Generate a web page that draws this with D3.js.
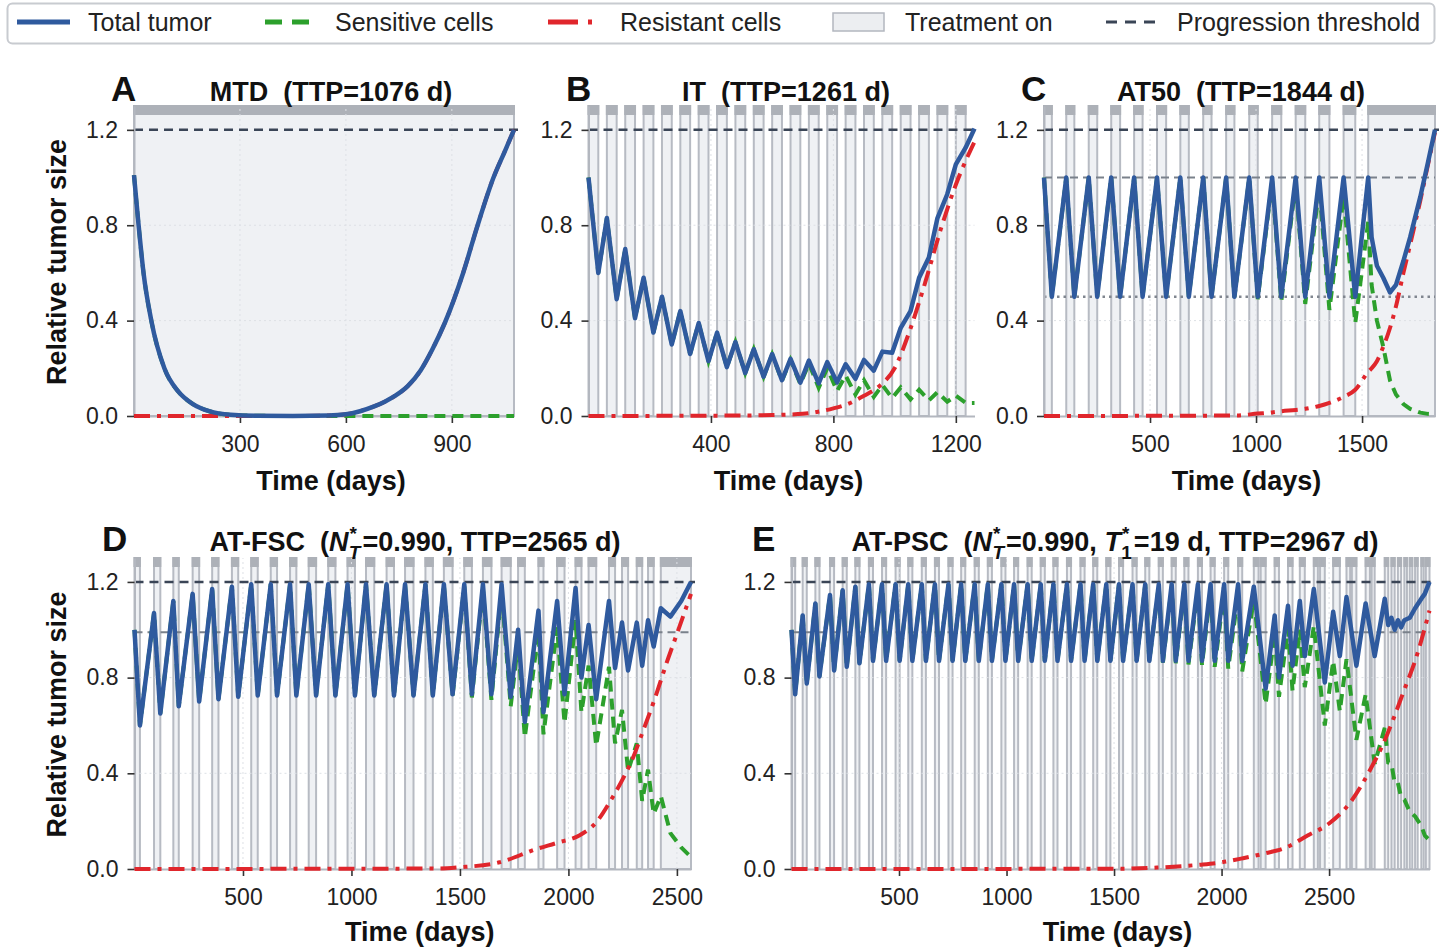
<!DOCTYPE html>
<html><head><meta charset="utf-8">
<script src="https://cdn.jsdelivr.net/npm/d3@7"></script>
<style>
body{margin:0;background:#fff;}
svg{display:block;}
</style></head><body>
<svg id="chart" width="1443" height="949"></svg>
<script>
// ---------------- DATA ----------------
// Panel A : MTD
const A_time  = [0,13,27,49,86,127,167,213,274,350,450,550,600,640,680,710,740,775,811,845,880,932,973,1018,1050,1076];
const A_total = [1.01,0.8,0.6,0.4,0.2,0.1,0.05,0.02,0.005,0.001,0.0005,0.002,0.007,0.02,0.04,0.06,0.085,0.125,0.19,0.28,0.39,0.6,0.8,1.0,1.11,1.2];
const A_sensT = [0,13,27,49,86,127,167,213,274,350,450,1076];
const A_sens  = [1.01,0.8,0.6,0.4,0.2,0.1,0.05,0.02,0.005,0.001,0,0];
const A_resT  = [0,450,550,600,640,680,710,740,775,811,845,880,932,973,1018,1050,1076];
const A_res   = [0,0.0003,0.002,0.007,0.02,0.04,0.06,0.085,0.125,0.19,0.28,0.39,0.6,0.8,1.0,1.11,1.2];
const A_txStart = [0];
const A_txEnd   = [1076];

// Panel B : IT
const B_time  = [0,32,60,92,120,152,180,212,240,272,300,332,360,392,420,452,480,512,540,572,600,632,660,692,720,752,780,812,840,872,900,932,960,992,1020,1052,1080,1112,1140,1172,1200,1232,1261];
const B_total = [1.0,0.60,0.83,0.49,0.70,0.41,0.58,0.35,0.50,0.30,0.44,0.26,0.39,0.23,0.35,0.205,0.31,0.18,0.28,0.165,0.26,0.15,0.24,0.14,0.232,0.137,0.226,0.141,0.217,0.156,0.235,0.19,0.27,0.265,0.37,0.44,0.58,0.665,0.83,0.93,1.055,1.125,1.205];
const B_sens  = [1.0,0.60,0.83,0.49,0.70,0.41,0.58,0.35,0.50,0.30,0.44,0.26,0.39,0.23,0.35,0.205,0.31,0.18,0.28,0.165,0.258,0.148,0.236,0.134,0.22,0.118,0.20,0.105,0.17,0.09,0.15,0.08,0.13,0.075,0.12,0.07,0.11,0.065,0.10,0.06,0.085,0.055,0.055];
const B_resT  = [0,500,600,700,750,800,850,900,950,1000,1050,1100,1150,1200,1261];
const B_res   = [0,0.002,0.004,0.009,0.018,0.032,0.052,0.085,0.125,0.2,0.36,0.56,0.78,0.97,1.15];
const B_txStart = [0,60,120,180,240,300,360,420,480,540,600,660,720,780,840,900,960,1020,1080,1140,1200];
const B_txEnd   = [32,92,152,212,272,332,392,452,512,572,632,692,752,812,872,932,992,1052,1112,1172,1232];

// Panel C : AT50
const C_time  = [0,37,105,143,211,251,317,359,425,465,533,576,643,683,751,790,859,898,968,1008,1076,1119,1187,1232,1298,1346,1413,1468,1529,1545,1570,1600,1632,1660,1695,1727,1775,1810,1844];
const C_total = [1.0,0.5,1.0,0.5,1.0,0.5,1.0,0.5,1.0,0.5,1.0,0.5,1.0,0.5,1.0,0.5,1.0,0.5,1.0,0.5,1.0,0.5,1.0,0.5,1.0,0.5,1.0,0.5,1.0,0.75,0.63,0.58,0.518,0.55,0.65,0.75,0.92,1.06,1.2];
const C_sens  = [1.0,0.5,1.0,0.5,1.0,0.5,1.0,0.5,1.0,0.5,1.0,0.5,1.0,0.5,1.0,0.5,1.0,0.498,0.998,0.49,0.985,0.48,0.975,0.47,0.958,0.445,0.92,0.39,0.815,0.55,0.40,0.29,0.148,0.09,0.05,0.03,0.014,0.009,0.007];
const C_resT  = [0,900,1008,1076,1119,1187,1232,1298,1346,1413,1468,1529,1545,1570,1600,1632,1660,1695,1727,1775,1810,1844];
const C_res   = [0,0.002,0.01,0.015,0.02,0.025,0.03,0.042,0.055,0.08,0.11,0.185,0.2,0.23,0.29,0.37,0.46,0.60,0.72,0.905,1.05,1.19];
const C_txStart = [0,105,211,317,425,533,643,751,859,968,1076,1187,1298,1413,1529];
const C_txEnd   = [37,143,251,359,465,576,683,790,898,1008,1119,1232,1346,1468,1844];

// Panel D : AT-FSC
const D_time  = [0,25,90,119,179,204,268,298,358,387,449,478,538,568,628,657,717,746,803,837,893,926,982,1016,1067,1105,1162,1196,1247,1286,1341,1375,1426,1466,1520,1555,1606,1645,1692,1734,1768,1799,1862,1885,1948,1982,2033,2060,2093,2128,2187,2215,2247,2275,2315,2340,2367,2393,2426,2470,2520,2565];
const D_total = [1.0,0.60,1.07,0.65,1.12,0.68,1.15,0.70,1.17,0.71,1.18,0.72,1.19,0.725,1.19,0.725,1.19,0.725,1.19,0.725,1.19,0.725,1.19,0.725,1.19,0.725,1.19,0.725,1.19,0.725,1.19,0.725,1.19,0.73,1.19,0.73,1.19,0.73,1.19,0.72,1.0,0.615,1.08,0.655,1.12,0.73,1.175,0.80,1.02,0.71,1.12,0.84,1.03,0.83,1.03,0.85,1.04,0.93,1.09,1.055,1.12,1.2];
const D_sens  = [1.0,0.60,1.07,0.65,1.12,0.68,1.15,0.70,1.17,0.71,1.18,0.72,1.19,0.725,1.19,0.725,1.19,0.725,1.19,0.725,1.19,0.725,1.19,0.725,1.19,0.725,1.19,0.725,1.19,0.725,1.19,0.725,1.188,0.725,1.181,0.717,1.171,0.707,1.161,0.68,0.945,0.55,0.994,0.563,1.01,0.61,1.04,0.655,0.85,0.515,0.845,0.525,0.665,0.41,0.525,0.285,0.415,0.23,0.305,0.15,0.09,0.05];
const D_resT  = [0,1400,1495,1683,1854,1950,2050,2128,2197,2264,2300,2333,2401,2452,2503,2565];
const D_res   = [0,0.002,0.007,0.028,0.084,0.11,0.14,0.195,0.29,0.40,0.47,0.55,0.72,0.86,0.99,1.15];
const D_txStart = [0,90,179,268,358,449,538,628,717,803,893,982,1067,1162,1247,1341,1426,1520,1606,1692,1768,1862,1948,2033,2093,2187,2247,2315,2367,2426];
const D_txEnd   = [25,119,204,298,387,478,568,657,746,837,926,1016,1105,1196,1286,1375,1466,1555,1645,1734,1799,1885,1982,2060,2128,2215,2275,2340,2393,2565];

// Panel E : AT-PSC
const E_time  = [0,17,52,71,111,130,179,198,238,257,297,316,360,379,421,440,484,503,543,562,606,625,667,686,730,749,789,808,852,871,913,932,976,995,1035,1054,1098,1117,1159,1178,1218,1237,1281,1300,1344,1363,1403,1422,1464,1483,1523,1542,1586,1605,1645,1664,1708,1727,1768,1787,1827,1846,1890,1909,1949,1968,2012,2031,2077,2096,2150,2205,2247,2267,2309,2330,2364,2387,2429,2480,2519,2550,2581,2627,2670,2712,2759,2775,2790,2805,2820,2835,2850,2875,2900,2929,2945,2967];
const E_total = [1.0,0.73,1.06,0.775,1.11,0.805,1.145,0.83,1.165,0.845,1.18,0.86,1.19,0.87,1.19,0.87,1.19,0.87,1.19,0.87,1.19,0.87,1.19,0.87,1.19,0.87,1.19,0.87,1.19,0.87,1.19,0.87,1.19,0.87,1.19,0.87,1.19,0.87,1.19,0.87,1.19,0.87,1.19,0.87,1.19,0.87,1.19,0.87,1.19,0.87,1.19,0.87,1.19,0.87,1.19,0.87,1.19,0.87,1.19,0.87,1.19,0.87,1.19,0.87,1.19,0.87,1.19,0.87,1.19,0.87,1.18,0.754,1.06,0.80,1.10,0.85,1.12,0.89,1.17,0.78,1.075,0.89,1.137,0.85,1.11,0.89,1.13,1.02,1.05,1.0,1.04,1.01,1.04,1.05,1.09,1.13,1.15,1.2];
const E_sens  = [1.0,0.73,1.06,0.775,1.11,0.805,1.145,0.83,1.165,0.845,1.18,0.86,1.19,0.87,1.19,0.87,1.19,0.87,1.19,0.87,1.19,0.87,1.19,0.87,1.19,0.87,1.19,0.87,1.19,0.87,1.19,0.87,1.19,0.87,1.19,0.87,1.19,0.87,1.19,0.87,1.19,0.87,1.19,0.87,1.19,0.87,1.19,0.87,1.19,0.87,1.19,0.87,1.19,0.87,1.19,0.87,1.184,0.863,1.18,0.86,1.177,0.855,1.172,0.852,1.165,0.845,1.16,0.838,1.148,0.826,1.125,0.69,0.985,0.72,1.005,0.745,1.0,0.76,1.015,0.60,0.87,0.66,0.877,0.54,0.73,0.44,0.59,0.445,0.44,0.36,0.36,0.30,0.29,0.24,0.22,0.18,0.14,0.12];
const E_resT  = [0,1500,1700,1900,2000,2100,2200,2300,2400,2500,2600,2700,2750,2800,2850,2900,2967];
const E_res   = [0,0.001,0.006,0.018,0.028,0.045,0.065,0.09,0.14,0.19,0.28,0.43,0.52,0.63,0.75,0.87,1.08];
const E_txStart = [0,52,111,179,238,297,360,421,484,543,606,667,730,789,852,913,976,1035,1098,1159,1218,1281,1344,1403,1464,1523,1586,1645,1708,1768,1827,1890,1949,2012,2077,2150,2182,2247,2309,2364,2429,2458,2519,2581,2606,2670,2698,2759,2790,2820,2850,2875,2900,2929,2950];
const E_txEnd   = [17,71,130,198,257,316,379,440,503,562,625,686,749,808,871,932,995,1054,1117,1178,1237,1300,1363,1422,1483,1542,1605,1664,1727,1787,1846,1909,1968,2031,2096,2172,2205,2267,2330,2387,2448,2480,2550,2598,2627,2690,2712,2775,2805,2835,2862,2887,2912,2940,2967];

// Axis ticks
const yTicks = [0, 0.4, 0.8, 1.2];
const A_xTicks = [300, 600, 900];
const B_xTicks = [400, 800, 1200];
const C_xTicks = [500, 1000, 1500];
const DE_xTicks = [500, 1000, 1500, 2000, 2500];
const TTP = {A:1076, B:1261, C:1844, D:2565, E:2967};
const threshold = 1.2;

// ---------------- DRAW ----------------
const FONT = '"Liberation Sans", Arial, Helvetica, sans-serif';
const BLUE = '#2f5a9e', GREEN = '#2ca02c', RED = '#e0262c', THR = '#3a4556';
const svg = d3.select('#chart').style('font-family', FONT);

const panels = [
  {id:'A', x0:134, x1:514, top:106, bottom:416, tmax:TTP.A, ticks:A_xTicks, t:A_time, tot:A_total, sT:A_sensT, s:A_sens, rT:A_resT, r:A_res, txS:A_txStart, txE:A_txEnd, smooth:true, lx:111, tx:331, base:101, xlab:490, ylab:true},
  {id:'B', x0:588.5, x1:974.5, top:106, bottom:416, tmax:TTP.B, ticks:B_xTicks, t:B_time, tot:B_total, sT:B_time, s:B_sens, rT:B_resT, r:B_res, txS:B_txStart, txE:B_txEnd, lx:566, tx:786, base:101, xlab:490},
  {id:'C', x0:1044, x1:1435, top:106, bottom:416, tmax:TTP.C, ticks:C_xTicks, t:C_time, tot:C_total, sT:C_time, s:C_sens, rT:C_resT, r:C_res, txS:C_txStart, txE:C_txEnd, lx:1021, tx:1241, base:101, xlab:490, refs:[{v:1.0,type:'dash'},{v:0.5,type:'dot'}]},
  {id:'D', x0:134.5, x1:691, top:558, bottom:869, tmax:TTP.D, ticks:DE_xTicks, t:D_time, tot:D_total, sT:D_time, s:D_sens, rT:D_resT, r:D_res, txS:D_txStart, txE:D_txEnd, lx:102, tx:415, base:551, xlab:941, ylab:true, refs:[{v:0.99,type:'dash'}]},
  {id:'E', x0:791.5, x1:1429.5, top:558, bottom:869, tmax:TTP.E, ticks:DE_xTicks, t:E_time, tot:E_total, sT:E_time, s:E_sens, rT:E_resT, r:E_res, txS:E_txStart, txE:E_txEnd, lx:752, tx:1115, base:551, xlab:941, refs:[{v:0.99,type:'dash'}]}
];

panels.forEach(p => {
  const x = d3.scaleLinear().domain([0, p.tmax]).range([p.x0, p.x1]);
  const y = d3.scaleLinear().domain([0, 1.3]).range([p.bottom, p.top]);
  const g = svg.append('g');

  // treatment-on rectangles
  const tx = d3.zip(p.txS, p.txE);
  g.selectAll('rect.tx').data(tx).join('rect').attr('class','tx')
    .attr('x', d => x(d[0])).attr('width', d => Math.max(0.5, x(d[1]) - x(d[0])))
    .attr('y', y(1.3)).attr('height', y(0) - y(1.3))
    .attr('fill', '#eff1f4').attr('stroke', '#b7bbc3').attr('stroke-width', 2);
  g.selectAll('rect.strip').data(tx).join('rect').attr('class','strip')
    .attr('x', d => x(d[0])).attr('width', d => Math.max(0.5, x(d[1]) - x(d[0])))
    .attr('y', y(1.3)).attr('height', 8)
    .attr('fill', '#adb1b8').attr('stroke', '#adb1b8').attr('stroke-width', 2);

  // grid
  g.selectAll('line.gy').data([0.4, 0.8]).join('line')
    .attr('x1', p.x0).attr('x2', p.x1).attr('y1', d => y(d)).attr('y2', d => y(d))
    .attr('stroke', '#dde0e5').attr('stroke-width', 1).attr('stroke-dasharray', '2,3');
  g.selectAll('line.gx').data(p.ticks).join('line')
    .attr('x1', d => x(d)).attr('x2', d => x(d)).attr('y1', y(0)).attr('y2', y(1.3))
    .attr('stroke', '#dde0e5').attr('stroke-width', 1).attr('stroke-dasharray', '2,3');

  // reference lines
  (p.refs || []).forEach(r => {
    g.append('line').attr('x1', p.x0).attr('x2', p.x1).attr('y1', y(r.v)).attr('y2', y(r.v))
      .attr('stroke', r.type === 'dot' ? '#80868f' : '#7a818b')
      .attr('stroke-width', r.type === 'dot' ? 2.5 : 2)
      .attr('stroke-dasharray', r.type === 'dot' ? '2.5,4' : '8,5');
  });
  // progression threshold
  g.append('line').attr('x1', p.x0).attr('x2', p.x1 + 4).attr('y1', y(threshold)).attr('y2', y(threshold))
    .attr('stroke', THR).attr('stroke-width', 2.5).attr('stroke-dasharray', '9,6');

  // axes
  const ya = d3.axisLeft(y).tickValues(yTicks).tickFormat(d3.format('.1f')).tickSize(7).tickPadding(9).tickSizeOuter(0);
  const yg = g.append('g').attr('transform', `translate(${p.x0},0)`).call(ya);
  const xa = d3.axisBottom(x).tickValues(p.ticks).tickFormat(d3.format('d')).tickSize(7).tickPadding(13).tickSizeOuter(0);
  const xg = g.append('g').attr('transform', `translate(0,${p.bottom})`).call(xa);
  [yg, xg].forEach(a => {
    a.attr('font-family', FONT).attr('font-size', 23);
    a.select('.domain').attr('stroke', '#b3b7bf').attr('stroke-width', 2);
    a.selectAll('.tick line').attr('stroke', '#333').attr('stroke-width', 1.6);
    a.selectAll('.tick text').attr('fill', '#222');
  });

  // series
  const lineS = d3.line().x(d => x(d[0])).y(d => y(d[1])).curve(p.smooth ? d3.curveMonotoneX : d3.curveLinear);
  const lineR = d3.line().x(d => x(d[0])).y(d => y(d[1])).curve(d3.curveMonotoneX);
  g.append('path').datum(d3.zip(p.sT, p.s)).attr('d', lineS)
    .attr('fill', 'none').attr('stroke', GREEN).attr('stroke-width', 4).attr('stroke-dasharray', '11,7');
  g.append('path').datum(d3.zip(p.rT, p.r)).attr('d', lineR)
    .attr('fill', 'none').attr('stroke', RED).attr('stroke-width', 4).attr('stroke-dasharray', '16,7,4,7');
  g.append('path').datum(d3.zip(p.t, p.tot)).attr('d', lineS)
    .attr('fill', 'none').attr('stroke', BLUE).attr('stroke-width', 4.5).attr('stroke-linejoin', 'round');

  // panel letter
  svg.append('text').attr('x', p.lx).attr('y', p.base).text(p.id)
    .attr('font-size', 35).attr('font-weight', 'bold').attr('fill', '#111');
  // x label
  svg.append('text').attr('x', (p.x0 + p.x1) / 2 + 7).attr('y', p.xlab).attr('text-anchor', 'middle')
    .attr('font-size', 27).attr('font-weight', 'bold').attr('fill', '#111').text('Time (days)');
  if (p.ylab) {
    svg.append('text').attr('transform', `translate(66,${(p.top + p.bottom) / 2 + 1}) rotate(-90)`)
      .attr('text-anchor', 'middle').attr('font-size', 27).attr('font-weight', 'bold').attr('fill', '#111')
      .text('Relative tumor size');
  }
});

// titles
function title(p, parts) {
  const t = svg.append('text').attr('x', p.tx).attr('y', p.base).attr('text-anchor', 'middle')
    .attr('font-size', 27).attr('font-weight', 'bold').attr('fill', '#111').style('white-space', 'pre');
  parts.forEach(s => {
    const sp = t.append('tspan').text(s.t);
    if (s.it) sp.attr('font-style', 'italic');
    if (s.fs) sp.attr('font-size', s.fs);
    if (s.dy) sp.attr('dy', s.dy);
    if (s.dx) sp.attr('dx', s.dx);
  });
}
title(panels[0], [{t:'MTD  (TTP=' + TTP.A + ' d)'}]);
title(panels[1], [{t:'IT  (TTP=' + TTP.B + ' d)'}]);
title(panels[2], [{t:'AT50  (TTP=' + TTP.C + ' d)'}]);
title(panels[3], [{t:'AT-FSC  ('}, {t:'N', it:true}, {t:'*', fs:19, dy:-11, dx:1}, {t:'T', fs:19, it:true, dy:19, dx:-8}, {t:'=0.990, TTP=' + TTP.D + ' d)', dy:-8, dx:2}]);
title(panels[4], [{t:'AT-PSC  ('}, {t:'N', it:true}, {t:'*', fs:19, dy:-11, dx:1}, {t:'T', fs:19, it:true, dy:19, dx:-8}, {t:'=0.990, ', dy:-8, dx:2},
  {t:'T', it:true}, {t:'*', fs:19, dy:-11, dx:1}, {t:'1', fs:19, dy:19, dx:-8}, {t:'=19 d, TTP=' + TTP.E + ' d)', dy:-8, dx:2}]);

// legend
const lg = svg.append('g');
lg.append('rect').attr('x', 7.5).attr('y', 3.5).attr('width', 1427).attr('height', 40).attr('rx', 5)
  .attr('fill', '#fff').attr('stroke', '#c8cbd0').attr('stroke-width', 2);
const ly = 22;
lg.append('line').attr('x1', 17).attr('x2', 70).attr('y1', ly).attr('y2', ly).attr('stroke', BLUE).attr('stroke-width', 5);
lg.append('line').attr('x1', 265).attr('x2', 313).attr('y1', ly).attr('y2', ly).attr('stroke', GREEN).attr('stroke-width', 5).attr('stroke-dasharray', '17,10');
lg.append('line').attr('x1', 548).attr('x2', 596).attr('y1', ly).attr('y2', ly).attr('stroke', RED).attr('stroke-width', 5).attr('stroke-dasharray', '30,10,4,10');
lg.append('rect').attr('x', 833).attr('y', 13).attr('width', 51).attr('height', 18).attr('fill', '#eceef1').attr('stroke', '#b3b7bf').attr('stroke-width', 1.5);
lg.append('line').attr('x1', 1106).attr('x2', 1155).attr('y1', ly).attr('y2', ly).attr('stroke', THR).attr('stroke-width', 3).attr('stroke-dasharray', '11,8');
const legendLabels = ['Total tumor', 'Sensitive cells', 'Resistant cells', 'Treatment on', 'Progression threshold'];
const legendX = [88, 335, 620, 905, 1177];
legendLabels.forEach((s, i) => {
  lg.append('text').attr('x', legendX[i]).attr('y', 31).attr('font-size', 25).attr('fill', '#222').text(s);
});
</script>
</body></html>
